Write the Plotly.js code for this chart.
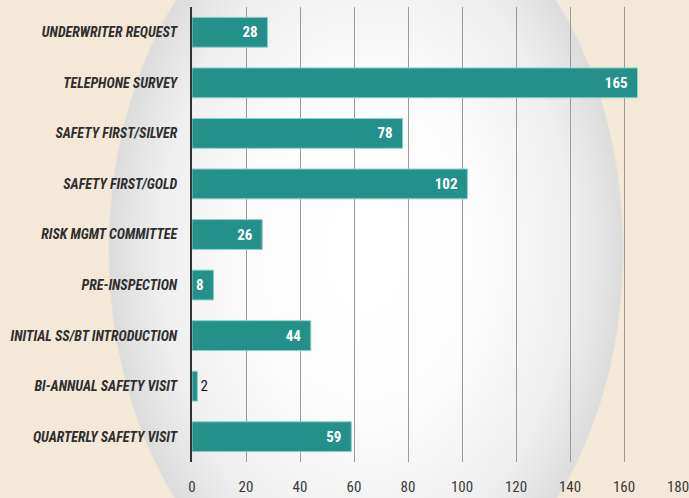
<!DOCTYPE html>
<html>
<head>
<meta charset="utf-8">
<script src="https://cdn.plot.ly/plotly-3.0.1.min.js"></script>
<style>
  html, body { margin: 0; padding: 0; }
  body {
    width: 689px; height: 498px; overflow: hidden;
    background-color: #f4e9d8;
    background-image:
      radial-gradient(ellipse 258px 372px at 366px 250px,
        #ffffff 0%, #fcfcfc 45%, #efefef 80%, #dcdcdc 99.3%, rgba(0,0,0,0) 100%);
  }
  #chart { width: 689px; height: 498px; }
</style>
</head>
<body>
<div id="chart"></div>
<script>
const categories = [
  "UNDERWRITER REQUEST",
  "TELEPHONE SURVEY",
  "SAFETY FIRST/SILVER",
  "SAFETY FIRST/GOLD",
  "RISK MGMT COMMITTEE",
  "PRE-INSPECTION",
  "INITIAL SS/BT INTRODUCTION",
  "BI-ANNUAL SAFETY VISIT",
  "QUARTERLY SAFETY VISIT"
];
const values = [28, 165, 78, 102, 26, 8, 44, 2, 59];
const tickValues = [0, 20, 40, 60, 80, 100, 120, 140, 160, 180];

const condensed = '"Roboto Condensed", "Liberation Sans Narrow", "Arial Narrow", Roboto, sans-serif';

const trace = {
  type: 'bar',
  orientation: 'h',
  x: values,
  y: categories,
  text: values.map(v => String(v) + '\u00a0\u00a0'),
  textposition: 'auto',
  insidetextanchor: 'end',
  cliponaxis: false,
  insidetextfont: { family: condensed, size: 15, color: '#ffffff', weight: 'bold' },
  outsidetextfont: { family: condensed, size: 15, color: '#111111' },
  marker: { color: '#24908a', line: { color: '#8fd0ca', width: 1 } },
  hoverinfo: 'none'
};

const layout = {
  width: 689, height: 498,
  margin: { l: 192, r: 11, t: 7, b: 36 },
  paper_bgcolor: 'rgba(0,0,0,0)',
  plot_bgcolor: 'rgba(0,0,0,0)',
  bargap: 0.41,
  showlegend: false,
  xaxis: {
    range: [0, 180],
    tickvals: tickValues,
    ticktext: tickValues.map(String),
    showgrid: true, gridcolor: '#9a9a9a', gridwidth: 1,
    zeroline: false, showline: false,
    ticks: '',
    ticklabelstandoff: 14,
    ticklabeloverflow: 'allow',
    tickfont: { family: condensed, size: 15, color: '#3a3a3a' },
    fixedrange: true
  },
  yaxis: {
    type: 'category',
    autorange: 'reversed',
    showgrid: false, zeroline: false,
    showline: true, linecolor: '#333333', linewidth: 2,
    ticks: '',
    ticklabelstandoff: 10,
    tickfont: { family: condensed, size: 14, color: '#2e2e2e', weight: 'bold', style: 'italic' },
    fixedrange: true
  },
  font: { family: condensed }
};

Plotly.newPlot('chart', [trace], layout, { staticPlot: true, displayModeBar: false });
</script>
</body>
</html>
